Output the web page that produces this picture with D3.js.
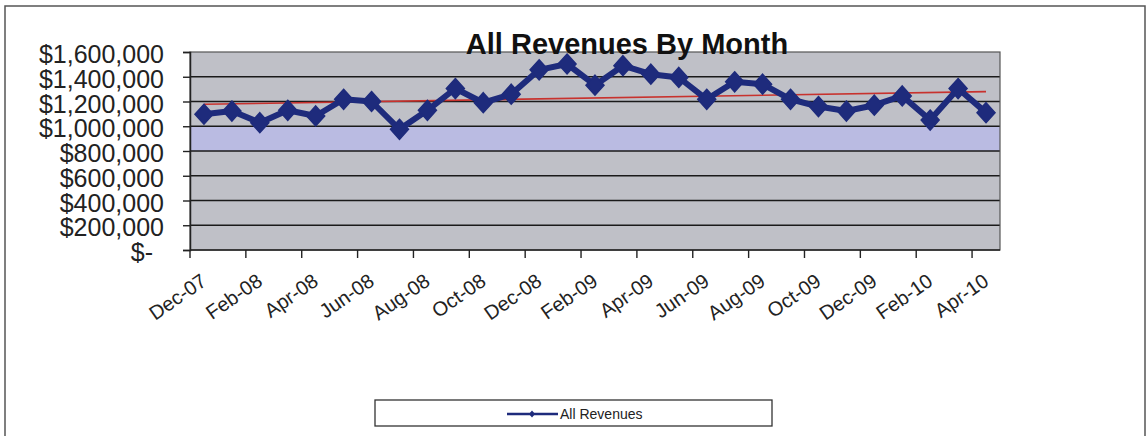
<!DOCTYPE html>
<html>
<head>
<meta charset="utf-8">
<script src="https://cdn.jsdelivr.net/npm/d3@7"></script>
<style>
  html, body { margin: 0; padding: 0; background: #ffffff; }
  svg { display: block; font-family: "Liberation Sans", Arial, sans-serif; }
</style>
</head>
<body>
<svg id="chart" width="1147" height="436"></svg>
<script>
// ---- data ----
const months = ["Dec-07","Jan-08","Feb-08","Mar-08","Apr-08","May-08","Jun-08","Jul-08","Aug-08","Sep-08","Oct-08","Nov-08",
  "Dec-08","Jan-09","Feb-09","Mar-09","Apr-09","May-09","Jun-09","Jul-09","Aug-09","Sep-09","Oct-09","Nov-09",
  "Dec-09","Jan-10","Feb-10","Mar-10","Apr-10"];
const revenues = [1097000,1123000,1029000,1129000,1083000,1218000,1200000,975000,1129000,1305000,1190000,1259000,
  1456000,1503000,1332000,1489000,1421000,1394000,1218000,1359000,1340000,1218000,1159000,1123000,
  1170000,1245000,1050000,1305000,1110000];
const yTicks = [0,200000,400000,600000,800000,1000000,1200000,1400000,1600000];
const tickLabels = ["Dec-07","Feb-08","Apr-08","Jun-08","Aug-08","Oct-08","Dec-08","Feb-09","Apr-09","Jun-09","Aug-09","Oct-09","Dec-09","Feb-10","Apr-10"];
const bandRange = [800000, 1000000];
const seriesName = "All Revenues";
const titleText = "All Revenues By Month";

// ---- layout ----
const svg = d3.select("#chart");
const L = 190, R = 1000, T = 52, B = 250;

const x = d3.scaleBand().domain(months).range([L, R]).paddingInner(0).paddingOuter(0);
const y = d3.scaleLinear().domain([0, 1600000]).range([B, T]);
const cx = m => x(m) + x.bandwidth() / 2;

// outer chart border
svg.append("rect").attr("x", 5).attr("y", 6).attr("width", 1140).attr("height", 445)
  .attr("fill", "#ffffff").attr("stroke", "#555").attr("stroke-width", 1.5);

// plot area
svg.append("rect").attr("x", L).attr("y", T).attr("width", R - L).attr("height", B - T)
  .attr("fill", "#bfc0c7");
svg.append("rect").attr("x", L).attr("y", y(bandRange[1])).attr("width", R - L)
  .attr("height", y(bandRange[0]) - y(bandRange[1])).attr("fill", "#babbe2");

// gridlines
svg.append("g").selectAll("line").data(yTicks.filter(v => v > 0 && v < 1600000)).join("line")
  .attr("x1", L).attr("x2", R).attr("y1", d => y(d)).attr("y2", d => y(d))
  .attr("stroke", "#1a1a1a").attr("stroke-width", 1.4);

// plot border
svg.append("rect").attr("x", L).attr("y", T).attr("width", R - L).attr("height", B - T)
  .attr("fill", "none").attr("stroke", "#555").attr("stroke-width", 1.2);

// y axis
const fmt = d3.format("$,");
const yAxis = d3.axisLeft(y).tickValues(yTicks).tickSize(7).tickPadding(19)
  .tickFormat(d => d === 0 ? "$-" : fmt(d));
const gy = svg.append("g").attr("transform", `translate(${L},0)`).call(yAxis);
gy.select(".domain").attr("stroke", "#222").attr("stroke-width", 1.5);
gy.selectAll(".tick line").attr("stroke", "#222").attr("stroke-width", 1.4);
gy.selectAll(".tick text").attr("font-size", 25).attr("fill", "#222")
  .attr("font-family", "'Liberation Sans', Arial, sans-serif").attr("dy", "0.42em")
  .attr("dx", d => d === 0 ? -11 : 0);

// x axis (ticks at every other month boundary)
const tickMonths = months.filter((m, i) => i % 2 === 0);
const gx = svg.append("g");
gx.append("line").attr("x1", L).attr("x2", R).attr("y1", B).attr("y2", B)
  .attr("stroke", "#222").attr("stroke-width", 1.6);
gx.selectAll("line.tk").data(tickMonths).join("line").attr("class", "tk")
  .attr("x1", d => x(d)).attr("x2", d => x(d)).attr("y1", B).attr("y2", B + 8)
  .attr("stroke", "#222").attr("stroke-width", 1.4);
gx.selectAll("text").data(tickMonths).join("text")
  .attr("transform", (d, i) => `translate(${cx(d) + 4},${B + 34}) rotate(-35)`)
  .attr("text-anchor", "end").attr("font-size", 20).attr("fill", "#222")
  .text((d, i) => tickLabels[i]);

// trend line (linear regression)
const n = revenues.length;
const xs = d3.range(n);
const mx = d3.mean(xs), my = d3.mean(revenues);
const slope = d3.sum(xs, i => (i - mx) * (revenues[i] - my)) / d3.sum(xs, i => (i - mx) * (i - mx));
const icpt = my - slope * mx;
svg.append("line")
  .attr("x1", cx(months[0])).attr("y1", y(icpt))
  .attr("x2", cx(months[n - 1])).attr("y2", y(icpt + slope * (n - 1)))
  .attr("stroke", "#c8322e").attr("stroke-width", 1.6);

// series line
const line = d3.line().x((d, i) => cx(months[i])).y(d => y(d));
svg.append("path").datum(revenues).attr("d", line)
  .attr("fill", "none").attr("stroke", "#1e2b7c").attr("stroke-width", 6).attr("stroke-linejoin", "round");

// diamond markers
const diamond = (w, h) => `M0,${-h/2}L${w/2},0L0,${h/2}L${-w/2},0Z`;
svg.append("g").selectAll("path").data(revenues).join("path")
  .attr("transform", (d, i) => `translate(${cx(months[i])},${y(d)})`)
  .attr("d", diamond(18, 20)).attr("fill", "#1e2b7c").attr("stroke", "#1e2b7c").attr("stroke-width", 1.5);

// title
svg.append("text").attr("x", 627).attr("y", 54).attr("text-anchor", "middle")
  .attr("font-size", 29).attr("font-weight", "bold").attr("fill", "#111").text(titleText);

// legend
svg.append("rect").attr("x", 375).attr("y", 400).attr("width", 397).attr("height", 26)
  .attr("fill", "#fff").attr("stroke", "#333").attr("stroke-width", 1.3);
svg.append("line").attr("x1", 507).attr("x2", 558).attr("y1", 414).attr("y2", 414)
  .attr("stroke", "#1e2b7c").attr("stroke-width", 2.5);
svg.append("path").attr("transform", "translate(532,414)").attr("d", diamond(6, 7)).attr("fill", "#1e2b7c");
svg.append("text").attr("x", 560).attr("y", 419).attr("font-size", 14).attr("fill", "#222").text(seriesName);
</script>
</body>
</html>
